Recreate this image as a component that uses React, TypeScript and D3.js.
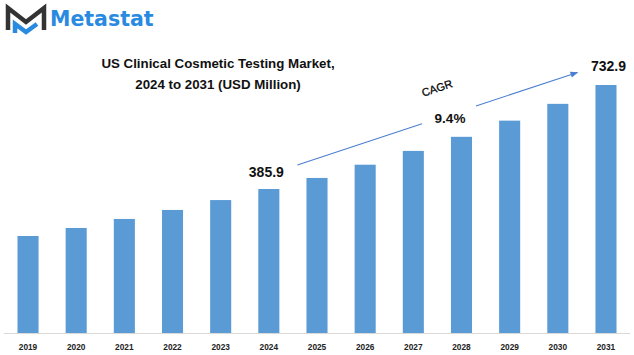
import React from "react";
import * as d3 from "d3";

const years = ["2019","2020","2021","2022","2023","2024","2025","2026","2027","2028","2029","2030","2031"];
const values = [229.2, 255.9, 286.0, 316.0, 349.0, 385.9, 422.8, 467.0, 513.0, 560.0, 614.0, 670.0, 732.9];
const labelledYears = ["2024", "2031"];
const titleLines = ["US Clinical Cosmetic Testing Market,", "2024 to 2031 (USD Million)"];
const cagrText = "CAGR";
const cagrValue = "9.4%";

const W = 634;
const H = 355;
const BAR = "#5B9BD5";
const FONT = "'Liberation Sans', Arial, sans-serif";

export default function App() {
  const x = d3.scaleBand<string>().domain(years).range([4, 630]).paddingInner(0.5625).paddingOuter(0.28);
  const y = d3.scaleLinear().domain([-94.5, 732.9]).range([333, 85]);
  const bw = x.bandwidth();
  const base = 333;

  const v0 = values[years.indexOf("2024")];
  const v1 = values[years.indexOf("2031")];
  const ax0 = (x("2024") as number) + bw + 18;
  const ay0 = y(v0) - 24;
  const ax1 = (x("2031") as number) - 18;
  const ay1 = y(v1) - 12.5;
  const slope = (ay1 - ay0) / (ax1 - ax0);
  const gapA = 422;
  const gapB = 476;
  const yAt = (xx: number) => ay0 + slope * (xx - ax0);
  const angle = (Math.atan2(ay1 - ay0, ax1 - ax0) * 180) / Math.PI;

  return (
    <svg width={W} height={H} style={{ position: "absolute", left: 0, top: 0, background: "#fff" }} fontFamily={FONT}>
      <defs>
        <marker id="ah" viewBox="0 0 10 10" refX="9" refY="5" markerWidth="7" markerHeight="7" orient="auto">
          <path d="M0,1 L10,5 L0,9 z" fill="#4A7FD0" />
        </marker>
      </defs>
      {/* logo */}
      <g>
        <path d="M8,30 L8,8 L26,22 L44,8 L44,30" fill="none" stroke="#333" strokeWidth={4.5} strokeLinejoin="miter" />
        <path d="M15,33 L15,24 L26,32 L37,24" fill="none" stroke="#2A8AE0" strokeWidth={4.5} strokeLinejoin="miter" />
        <text x={50} y={26} fontFamily="'DejaVu Sans', sans-serif" fontWeight="bold" fontSize={20.5} fill="#2A8AE0">Metastat</text>
      </g>
      {/* title */}
      {titleLines.map((t, i) => (
        <text key={t} x={218} y={68 + i * 21} textAnchor="middle" fontWeight="bold" fontSize={13.3} fill="#111">{t}</text>
      ))}
      {/* bars */}
      {years.map((yr, i) => (
        <rect key={yr} x={x(yr)} y={y(values[i])} width={bw} height={base - y(values[i])} fill={BAR} />
      ))}
      {/* axis */}
      <line x1={4} x2={630} y1={333.5} y2={333.5} stroke="#D9D9D9" strokeWidth={1} />
      {years.map((yr) => (
        <text key={"l" + yr} x={(x(yr) as number) + bw / 2} y={350} textAnchor="middle" fontWeight="bold" fontSize={8.3} fill="#222">{yr}</text>
      ))}
      {/* value labels */}
      {labelledYears.map((yr) => {
        const v = values[years.indexOf(yr)];
        const dx = yr === "2031" ? 2.5 : -2.5;
        const dy = yr === "2031" ? 14 : 12;
        return (
          <text key={"v" + yr} x={(x(yr) as number) + bw / 2 + dx} y={y(v) - dy} textAnchor="middle" fontWeight="bold" fontSize={14} fill="#111">{v.toFixed(1)}</text>
        );
      })}
      {/* CAGR arrow */}
      <line x1={ax0} y1={ay0} x2={gapA} y2={yAt(gapA)} stroke="#4A7FD0" strokeWidth={1.1} />
      <line x1={gapB} y1={yAt(gapB)} x2={ax1} y2={ay1} stroke="#4A7FD0" strokeWidth={1.1} markerEnd="url(#ah)" />
      <text x={437} y={92} textAnchor="middle" fontSize={11} fill="#000" stroke="#000" strokeWidth={0.25} transform={`rotate(${angle} 437 88)`}>{cagrText}</text>
      <text x={450} y={122.5} textAnchor="middle" fontWeight="bold" fontSize={13.5} fill="#111">{cagrValue}</text>
    </svg>
  );
}
